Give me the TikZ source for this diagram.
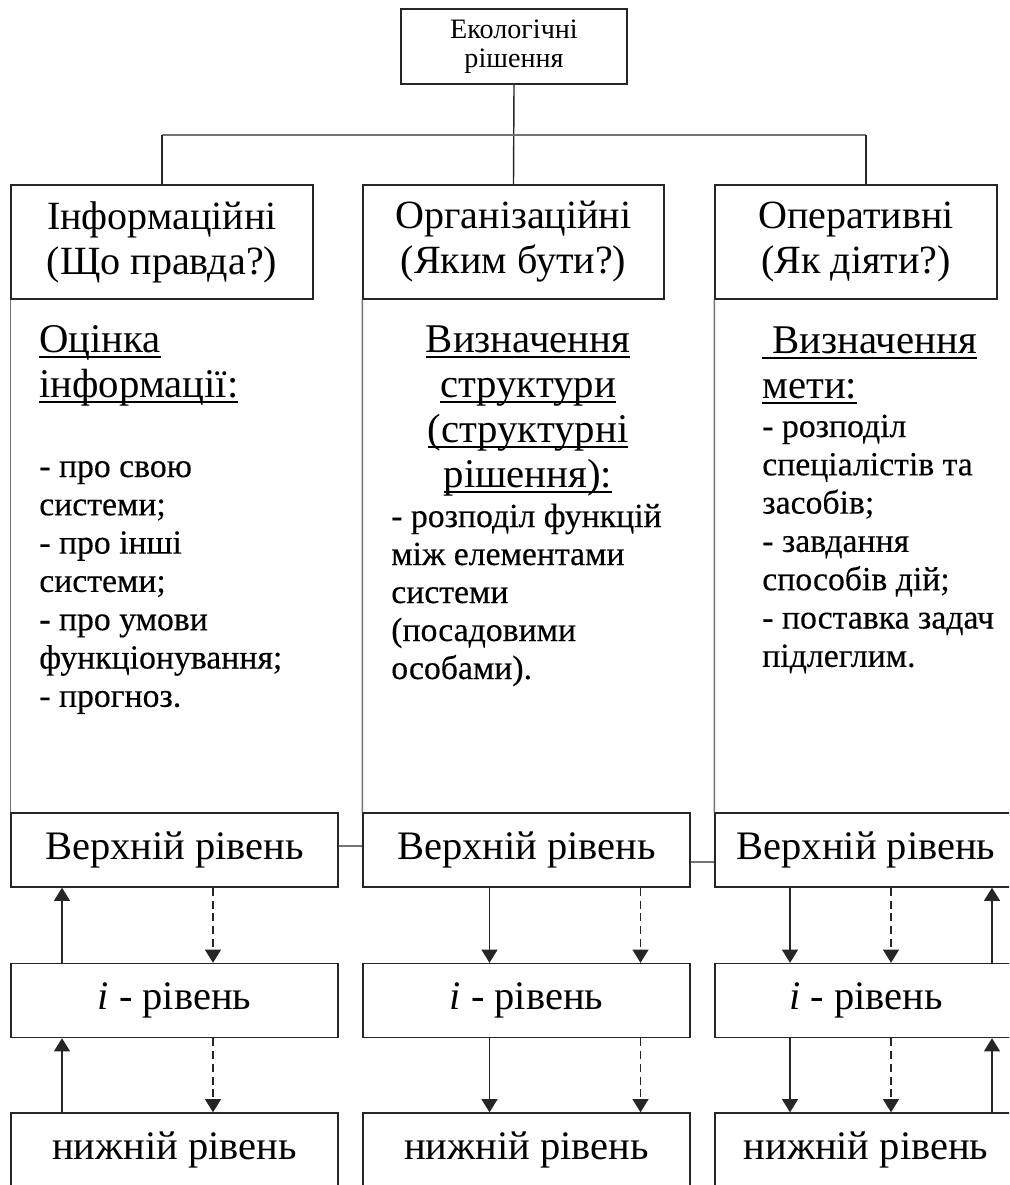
\documentclass[tikz,border=0pt]{standalone}
\usepackage{fontspec}
\setmainfont{Liberation Serif}
\newfontfamily\listfont[FakeBold=0.3]{Liberation Serif}
\usetikzlibrary{arrows.meta}

\newsavebox{\ulbox}
\newcommand{\ulw}[1]{\sbox{\ulbox}{#1}\rlap{\rule[-4pt]{\wd\ulbox}{1.1pt}}\usebox{\ulbox}}

\begin{document}
\begin{tikzpicture}[
      >={Triangle[length=3.3mm,width=4mm]},
      box/.style={draw=black!85,line width=1pt,inner sep=0pt,align=center},
      title box/.style={box,minimum width=5.65cm,minimum height=1.875cm,font=\fontsize{20}{21}\selectfont},
      kind box/.style={box,minimum height=2.85cm,font=\fontsize{28.5}{32}\selectfont},
      level box/.style={box,minimum width=8.175cm,minimum height=1.85cm,font=\fontsize{28.8}{30}\selectfont},
      head text/.style={inner sep=0pt,font=\fontsize{29}{30}\selectfont},
      list text/.style={inner sep=0pt,anchor=base west,font=\listfont\fontsize{24}{26}\selectfont},
      tree link/.style={black!85,line width=1pt},
      side link/.style={black!55,line width=1pt},
      flow/.style={->,black!85,line width=1pt},
      back flow/.style={flow,dash pattern=on 2mm off 1.2mm}
      ]
      \clip (0,0) rectangle (25.225,-29.625);
      % top
      \node [title box] (eco) at (12.85,-1.1625) {Екологічні\\рішення};
      % kinds
      \node [kind box,minimum width=7.55cm] (info) at (4.05,-6.05) {Інформаційні\\(Що правда?)};
      \node [kind box,minimum width=7.525cm] (org) at (12.8375,-6.05) {Організаційні\\(Яким бути?)};
      \node [kind box,minimum width=7.05cm] (oper) at (21.4,-6.05) {Оперативні\\(Як діяти?)};
      % levels
      \node [level box] (infoTop) at (4.3625,-21.25) {Верхній рівень};
      \node [level box] (infoMid) at (4.3625,-25.0125) {{\itshape i} - рівень};
      \node [level box] (infoLow) at (4.3625,-28.75) {нижній рівень};
      \node [level box] (orgTop) at (13.1625,-21.25) {Верхній рівень};
      \node [level box] (orgMid) at (13.1625,-25.0125) {{\itshape i} - рівень};
      \node [level box] (orgLow) at (13.1625,-28.75) {нижній рівень};
      \node [level box,minimum width=7.55cm] (operTop) at (21.65,-21.25) {Верхній рівень};
      \node [level box,minimum width=7.55cm] (operMid) at (21.65,-25.0125) {{\itshape i} - рівень};
      \node [level box,minimum width=7.55cm] (operLow) at (21.65,-28.75) {нижній рівень};
      % tree
      \coordinate (bus) at (0,-3.375);
      \draw [tree link] (eco.south) -- (org.north);
      \draw [side link] (info.north |- bus) -- ([xshift=2.5mm]oper.north |- bus);
      \draw [tree link] (info.north |- bus) -- (info.north);
      \draw [tree link] ([xshift=2.5mm]oper.north |- bus) -- ([xshift=2.5mm]oper.north);
      % column sides
      \draw [side link] (info.south west) -- (infoTop.north west);
      \draw [side link] (org.south west) -- (orgTop.north west);
      \draw [side link] (oper.south west) -- (operTop.north west);
      \draw [side link] ([yshift=1mm]infoTop.east) -- ([yshift=1mm]orgTop.west);
      \draw [side link] ([yshift=-3mm]orgTop.east) -- ([yshift=-3mm]operTop.west);
      % arrows between levels
      \foreach \a/\b in {Top/Mid,Mid/Low} {
          \draw [flow] ([xshift=-2.8125cm]info\b.north) -- ([xshift=-2.8125cm]info\a.south);
          \draw [back flow] ([xshift=0.9625cm]info\a.south) -- ([xshift=0.9625cm]info\b.north);
          \draw [flow] ([xshift=-0.925cm]org\a.south) -- ([xshift=-0.925cm]org\b.north);
          \draw [back flow] ([xshift=2.85cm]org\a.south) -- ([xshift=2.85cm]org\b.north);
          \draw [flow] ([xshift=-1.9cm]oper\a.south) -- ([xshift=-1.9cm]oper\b.north);
          \draw [back flow] ([xshift=0.625cm]oper\a.south) -- ([xshift=0.625cm]oper\b.north);
          \draw [flow] ([xshift=3.15cm]oper\b.north) -- ([xshift=3.15cm]oper\a.south);
      }
      % info column
      \node [head text,anchor=base west] (infoH1) at (0.975,-8.8) {\ulw{Оцінка}};
      \node [head text,anchor=base west] (infoH2) at (0.975,-9.925) {\ulw{інформації:}};
      \foreach \t [count=\i from 0] in {- про свою,системи;,- про інші,системи;,- про умови,функціонування;,- прогноз.} {
          \node [list text] (infoL\i) at (0.975,-11.925-0.9575*\i) {\t};
      }
      % org column
      \foreach \t [count=\i from 0] in {Визначення,структури,{(структурні},рішення):} {
          \node [head text,anchor=base] (orgH\i) at (13.2,-8.8-1.125*\i) {\ulw{\t}};
      }
      \foreach \t [count=\i from 0] in {- розподіл функцій,між елементами,системи,{(посадовими},особами).} {
          \node [list text] (orgL\i) at (9.775,-13.175-0.95*\i) {\t};
      }
      % oper column
      \node [head text,anchor=base west] (operH1) at (19.05,-8.825) {\ulw{~Визначення}};
      \node [head text,anchor=base west] (operH2) at (19.05,-9.95) {\ulw{мети:}};
      \foreach \t [count=\i from 0] in {- розподіл,спеціалістів та,засобів;,- завдання,способів дій;,- поставка задач,підлеглим.} {
          \node [list text] (operL\i) at (19.05,-10.925-0.9575*\i) {\t};
      }
    \end{tikzpicture}
\end{document}
